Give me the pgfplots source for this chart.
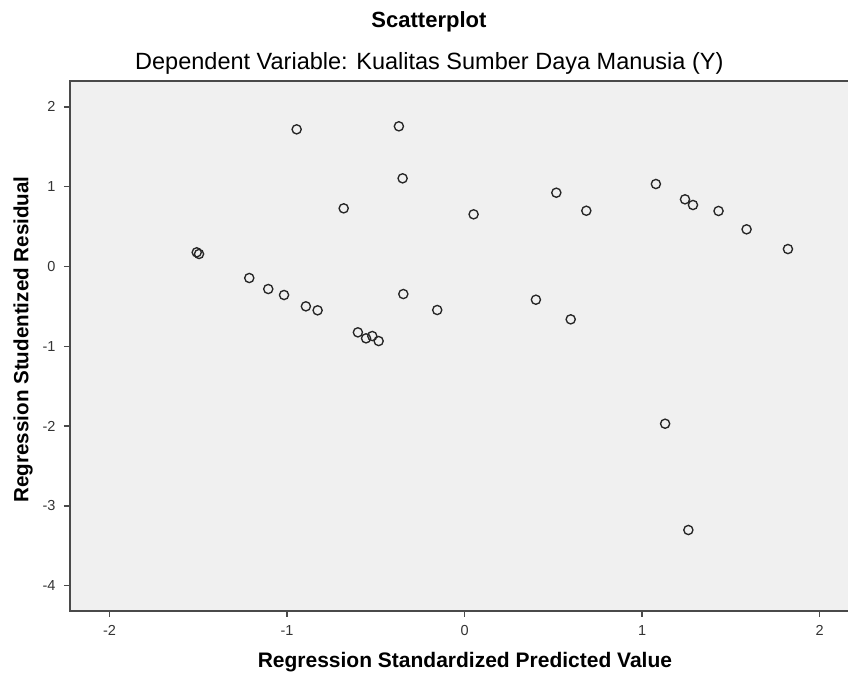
\documentclass[border=0pt]{standalone}
\usepackage{fontspec}
\setmainfont{Liberation Sans}
\usepackage{pgfplots}
\pgfplotsset{compat=1.18}
\definecolor{bgc}{HTML}{F0F0F0}
\definecolor{framec}{HTML}{4A4A4A}
\definecolor{tickc}{HTML}{333333}
\definecolor{markc}{HTML}{262626}
\begin{document}
\begin{tikzpicture}
\begin{axis}[
  at={(70pt,66pt)}, anchor=south west,
  scale only axis, width=782pt, height=530pt,
  xmin=-2.223, xmax=2.183, ymin=-4.317, ymax=2.325,
  axis background/.style={fill=bgc},
  axis line style={draw=framec, line width=1.6pt},
  xtick={-2,-1,0,1,2}, ytick={-4,-3,-2,-1,0,1,2},
  tick align=outside, xtick pos=bottom, ytick pos=left,
  major tick length=6pt,
  tick style={draw=framec, line width=1.4pt},
  ticklabel style={font=\fontsize{14.5}{17}\selectfont, text=tickc},
  xticklabel shift=5pt, yticklabel shift=5pt,
  /pgf/number format/assume math mode=true,
  xlabel={Regression Standardized Predicted Value},
  ylabel={Regression Studentized Residual},
  xlabel style={font=\bfseries\fontsize{21}{24}\selectfont, at={(axis description cs:0.505,-0.0962)}, anchor=center},
  ylabel style={font=\bfseries\fontsize{20.6}{24}\selectfont, at={(axis description cs:-0.0601,0.5123)}, anchor=center, rotate=0},
  clip=false,
]
\addplot[only marks, mark=o, mark size=4.6pt, mark options={draw=markc, line width=1.35pt}] coordinates {
(-1.509,0.178)
(-1.496,0.157)
(-1.213,-0.144)
(-1.106,-0.282)
(-1.017,-0.357)
(-0.946,1.719)
(-0.894,-0.499)
(-0.828,-0.549)
(-0.681,0.729)
(-0.601,-0.825)
(-0.555,-0.900)
(-0.520,-0.871)
(-0.484,-0.934)
(-0.370,1.757)
(-0.349,1.105)
(-0.345,-0.345)
(-0.154,-0.545)
(0.051,0.654)
(0.402,-0.416)
(0.517,0.925)
(0.598,-0.662)
(0.686,0.699)
(1.078,1.034)
(1.130,-1.970)
(1.242,0.842)
(1.261,-3.302)
(1.287,0.771)
(1.431,0.696)
(1.589,0.466)
(1.822,0.219)
};
\node[font=\bfseries\fontsize{22}{26}\selectfont, anchor=base] at (axis description cs:0.459,1.1) {Scatterplot};
\node[font=\fontsize{23.5}{27}\selectfont, anchor=base] at (axis description cs:0.4595,1.0208) {Dependent Variable: Kualitas Sumber Daya Manusia (Y)};
\end{axis}
\pgfresetboundingbox
\useasboundingbox (0,0) rectangle (848pt,677pt);
\end{tikzpicture}
\end{document}
